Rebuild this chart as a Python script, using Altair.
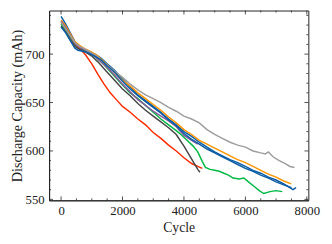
import altair as alt
import pandas as pd

# ---------------- data ----------------
SERIES = ["Cell 1", "Cell 2", "Cell 3", "Cell 4", "Cell 5", "Cell 6", "Cell 7", "Cell 8"]
COLORS = ["#0C5DA5", "#00B945", "#FF9500", "#FF2C00", "#845B97", "#474747", "#9e9e9e", "#0C5DA5"]

c1_cycle = [0, 150, 300, 450, 550, 700, 900, 1100, 1300, 1500, 1750, 2000, 2250, 2500, 2750, 3000,
            3250, 3500, 3750, 4000, 4250, 4500, 4750, 5000, 5250, 5500, 5750, 6000, 6250, 6500,
            6750, 7000, 7250, 7450, 7550, 7650]
c1_cap = [739, 731, 722, 713, 708, 705, 703, 700, 696, 690, 683, 674, 666, 658, 652, 646,
          640, 633, 627, 620, 615, 609, 604, 599, 595, 591, 588, 584, 580, 577,
          573, 570, 566, 562, 560, 562]

c2_cycle = [0, 150, 300, 450, 600, 800, 1000, 1200, 1400, 1600, 1800, 2000, 2250, 2500, 2750, 3000,
            3250, 3500, 3750, 3900, 4100, 4300, 4450, 4600, 4700, 4850, 5000, 5150, 5300, 5450,
            5600, 5800, 5950, 6100, 6300, 6450, 6600, 6800, 7000, 7200]
c2_cap = [731, 725, 717, 710, 706, 703, 700, 695, 689, 682, 675, 668, 660, 654, 647, 640,
          633, 627, 621, 617, 611, 605, 599, 589, 583, 581, 580, 579, 577, 575,
          572, 571, 572, 568, 563, 559, 556, 558, 559, 558]

c3_cycle = [0, 150, 300, 450, 600, 800, 1000, 1200, 1400, 1600, 1800, 2000, 2250, 2500, 2750, 3000,
            3250, 3500, 3750, 4000, 4250, 4500, 4750, 5000, 5250, 5500, 5750, 6000, 6250, 6500,
            6750, 7000, 7250, 7490]
c3_cap = [735, 729, 721, 713, 709, 705, 702, 698, 692, 686, 679, 673, 667, 660, 654, 648,
          642, 635, 629, 622, 617, 611, 607, 603, 599, 595, 591, 588, 584, 580,
          576, 573, 569, 566]

c4_cycle = [0, 150, 300, 450, 600, 800, 1000, 1200, 1400, 1600, 1800, 2000, 2250, 2500, 2750, 3000,
            3250, 3500, 3750, 4000, 4250, 4450, 4600]
c4_cap = [733, 727, 719, 711, 706, 699, 690, 679, 669, 660, 653, 646, 640, 633, 627, 619,
          613, 606, 600, 593, 587, 584, 582]

c5_cycle = [0, 150, 300, 450, 600, 800, 1000, 1200, 1400, 1600, 1800, 2000, 2250, 2500, 2750, 3000,
            3250, 3500, 3750, 4000, 4250, 4450]
c5_cap = [734, 727, 719, 711, 707, 704, 700, 695, 689, 683, 676, 669, 661, 653, 647, 641,
          636, 631, 625, 616, 611, 607]

c6_cycle = [0, 150, 300, 450, 600, 800, 1000, 1200, 1400, 1600, 1800, 2000, 2250, 2500, 2750, 3000,
            3250, 3500, 3750, 4000, 4150, 4300, 4450, 4520]
c6_cap = [729, 723, 715, 708, 705, 702, 698, 692, 685, 678, 671, 664, 657, 649, 642, 636,
          630, 624, 617, 605, 597, 589, 581, 578]

c7_cycle = [0, 150, 300, 450, 600, 800, 1000, 1200, 1400, 1600, 1800, 2000, 2250, 2500, 2750, 3000,
            3250, 3500, 3750, 4000, 4250, 4500, 4750, 5000, 5250, 5500, 5750, 6000, 6250, 6500,
            6650, 6750, 6900, 7100, 7300, 7450, 7600]
c7_cap = [733, 726, 719, 712, 708, 705, 701, 697, 691, 686, 681, 676, 669, 663, 658, 654,
          650, 645, 641, 636, 633, 629, 622, 617, 613, 609, 606, 604, 600, 598,
          597, 599, 594, 590, 587, 584, 583]

c8_cycle = [0, 150, 300, 450, 550, 700, 900, 1100, 1300, 1500, 1750, 2000, 2250, 2500, 2750, 3000,
            3250, 3500, 3750, 4000, 4250, 4500, 4750, 5000, 5250, 5500, 5750, 6000, 6250, 6500,
            6750, 7000, 7250, 7500]
c8_cap = [728, 722, 714, 706, 704, 703, 701, 698, 694, 688, 681, 672, 664, 657, 651, 645,
          639, 632, 626, 618, 612, 607, 602, 598, 594, 590, 586, 582, 579, 575,
          572, 568, 565, 562]

X_MAJOR = [0, 2000, 4000, 6000, 8000]
X_MINOR = [500, 1000, 1500, 2500, 3000, 3500, 4500, 5000, 5500, 6500, 7000, 7500]
Y_MAJOR = [550, 600, 650, 700]
Y_MINOR = [560, 570, 580, 590, 610, 620, 630, 640, 660, 670, 680, 690, 710, 720, 730, 740]

X_DOMAIN = [-390, 8050]
Y_DOMAIN = [549, 745]

# ---------------- build table ----------------
pairs = [(c1_cycle, c1_cap), (c2_cycle, c2_cap), (c3_cycle, c3_cap), (c4_cycle, c4_cap),
         (c5_cycle, c5_cap), (c6_cycle, c6_cap), (c7_cycle, c7_cap), (c8_cycle, c8_cap)]
rows = []
for i, (cx, cy) in enumerate(pairs):
    for j, (a, b) in enumerate(zip(cx, cy)):
        rows.append({"series": SERIES[i], "order": i, "idx": j, "cycle": a, "cap": b})
df = pd.DataFrame(rows)

W, H = 265, 194
FONT = "Liberation Serif"

xs = alt.Scale(domain=X_DOMAIN, nice=False, zero=False)
ys = alt.Scale(domain=Y_DOMAIN, nice=False, zero=False)

lines = alt.Chart(df).mark_line(strokeWidth=1.5, clip=True).encode(
    x=alt.X("cycle:Q", scale=xs,
            axis=alt.Axis(title="Cycle", values=X_MAJOR, ticks=False, grid=False,
                          labelPadding=5, titlePadding=3, format="d")),
    y=alt.Y("cap:Q", scale=ys,
            axis=alt.Axis(title="Discharge Capacity (mAh)", values=Y_MAJOR, ticks=False,
                          grid=False, labelPadding=5, titlePadding=1, titleFontSize=14.5,
                          format="d")),
    color=alt.Color("series:N", scale=alt.Scale(domain=SERIES, range=COLORS), legend=None),
    detail="series:N",
    order="idx:Q",
)

def xticks(vals, length):
    d = pd.DataFrame({"v": vals})
    bottom = alt.Chart(d).mark_rule(color="#222", strokeWidth=0.8).encode(
        x=alt.X("v:Q", scale=xs, axis=None), y=alt.value(H), y2=alt.value(H - length))
    top = alt.Chart(d).mark_rule(color="#222", strokeWidth=0.8).encode(
        x=alt.X("v:Q", scale=xs, axis=None), y=alt.value(0), y2=alt.value(length))
    return [bottom, top]

def yticks(vals, length):
    d = pd.DataFrame({"v": vals})
    left = alt.Chart(d).mark_rule(color="#222", strokeWidth=0.8).encode(
        y=alt.Y("v:Q", scale=ys, axis=None), x=alt.value(0), x2=alt.value(length))
    right = alt.Chart(d).mark_rule(color="#222", strokeWidth=0.8).encode(
        y=alt.Y("v:Q", scale=ys, axis=None), x=alt.value(W), x2=alt.value(W - length))
    return [left, right]

layers = [lines] + xticks(X_MAJOR, 4) + xticks(X_MINOR, 2) + yticks(Y_MAJOR, 4) + yticks(Y_MINOR, 2)

chart = alt.layer(*layers).resolve_axis(
    x="independent", y="independent"
).properties(
    width=W, height=H,
    autosize=alt.AutoSizeParams(type="none"),
    padding={"left": 42, "top": 0, "right": 16, "bottom": 40},
).configure_view(
    stroke="#222", strokeWidth=1
).configure_axis(
    domainColor="#222", domainWidth=1,
    labelFont=FONT, titleFont=FONT, labelFontSize=13, titleFontSize=14,
    labelColor="#222", titleColor="#222", titleFontWeight="normal",
)

chart.save("out.html", embed_options={"renderer": "svg", "actions": False})
